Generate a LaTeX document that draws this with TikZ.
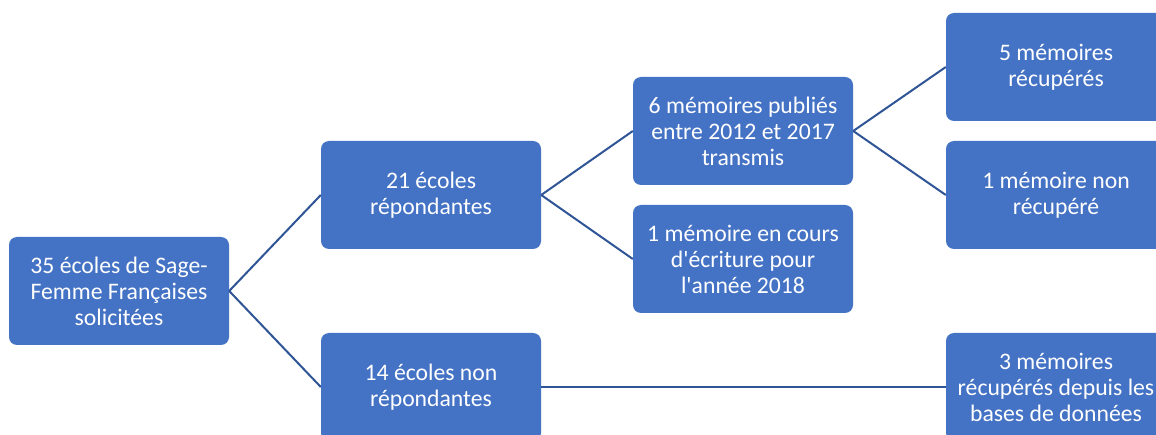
\documentclass[tikz,border=0pt]{standalone}
\usepackage{fontspec}
\setmainfont{Carlito}[Ligatures=TeXOff]
\definecolor{boxblue}{HTML}{4472C4}
\definecolor{lineblue}{HTML}{2F5597}
\begin{document}
\begin{tikzpicture}[x=1pt,y=-1pt,
  box/.style={fill=boxblue, rounded corners=8pt, minimum width=220pt, minimum height=108pt,
    text=white, align=center, inner sep=0pt, font=\fontsize{23.7}{26}\selectfont},
  link/.style={draw=lineblue, line width=2pt}]
\useasboundingbox (0,0) rectangle (1156,435);
\clip (0,0) rectangle (1156,435);
\fill[white] (0,0) rectangle (1156,435);
\node[box] (A) at (119,291) {35 écoles de Sage-\\Femme Françaises\\solicitées};
\node[box] (B) at (431,195) {21 écoles\\répondantes};
\node[box] (C) at (431,387) {14 écoles non\\répondantes};
\node[box] (D) at (743,131) {6 mémoires publiés\\entre 2012 et 2017\\transmis};
\node[box] (E) at (743,259) {1 mémoire en cours\\d'écriture pour\\l'année 2018};
\node[box] (F) at (1056,67) {5 mémoires\\récupérés};
\node[box] (G) at (1056,195) {1 mémoire non\\récupéré};
\node[box] (H) at (1056,387) {3 mémoires\\récupérés depuis les\\bases de données};
\draw[link] (A.east) -- (B.west);
\draw[link] (A.east) -- (C.west);
\draw[link] (B.east) -- (D.west);
\draw[link] (B.east) -- (E.west);
\draw[link] (D.east) -- (F.west);
\draw[link] (D.east) -- (G.west);
\draw[link] (C.east) -- (H.west);
\end{tikzpicture}
\end{document}
